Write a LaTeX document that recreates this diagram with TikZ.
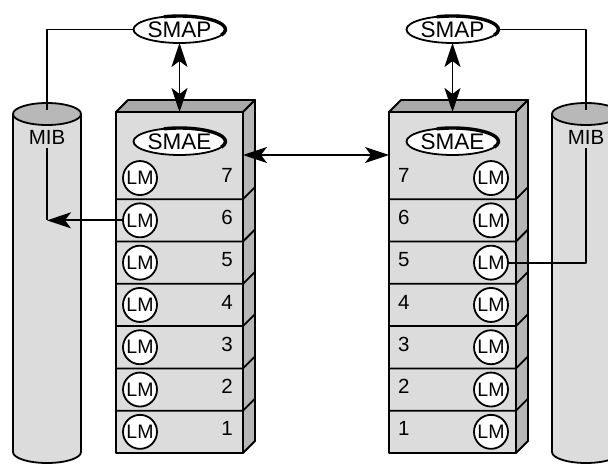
\documentclass[tikz,border=0pt]{standalone}
\usepackage{fontspec}
\setmainfont{Liberation Sans}
\usepackage{xcolor}
\usepackage{tikz}
\usetikzlibrary{arrows.meta,positioning,shapes.geometric,calc}
\definecolor{facegray}{HTML}{DCDCDC}
\definecolor{topgray}{HTML}{A8A8A8}
\definecolor{sidegray}{HTML}{B6B6B6}
\definecolor{capgray}{HTML}{B8B8B8}

\begin{document}
\begin{tikzpicture}[
  x=1pt, y=1pt,
  line width=1.8pt, line join=round,
  font=\fontsize{20.5}{24}\selectfont,
  entity/.style={ellipse, draw, fill=white, minimum width=92pt, minimum height=27pt, inner sep=0pt, outer sep=0pt, font=\fontsize{22.5}{26}\selectfont},
  lm/.style={circle, draw, fill=white, minimum size=34pt, inner sep=0pt, font=\fontsize{19.5}{22}\selectfont},
  stack/.style={draw, fill=facegray, minimum width=127pt, minimum height=341pt, inner sep=0pt, outer sep=0pt},
  arrow/.style={-{Stealth[length=24pt, width=16pt, inset=6pt]}},
  biarrow/.style={{Stealth[length=24pt, width=16pt, inset=6pt]}-{Stealth[length=24pt, width=16pt, inset=6pt]}},
]
\useasboundingbox (0,0) rectangle (608,464);
\clip (0,0) rectangle (608,464);

% MIB cylinders
\foreach \cx/\nm in {47/L,586/R} {
  \fill[facegray] (\cx-34,350) -- (\cx-34,12) arc[start angle=180, end angle=360, x radius=34, y radius=11] -- (\cx+34,350) -- cycle;
  \draw (\cx-34,350) -- (\cx-34,12) arc[start angle=180, end angle=360, x radius=34, y radius=11] -- (\cx+34,350);
  \draw[fill=capgray] (\cx,350) ellipse[x radius=34, y radius=11];
  \coordinate (top\nm) at (\cx,354);
}
\node (mibL) at (47,327) {MIB};
\node (mibR) at (586,327) {MIB};

% layer stacks
\node[stack] (stackL) at (179.5,181.5) {};
\node[stack] (stackR) at (452.5,181.5) {};
\foreach \s in {stackL,stackR} {
  \draw[fill=topgray] (\s.north west) -- ++(12,12) -- ($(\s.north east)+(12,12)$) -- (\s.north east) -- cycle;
  \draw[fill=sidegray] (\s.north east) -- ++(12,12) -- ($(\s.south east)+(12,12)$) -- (\s.south east) -- cycle;
  \foreach \k in {1,...,6}
    \draw ($(\s.south west)+(0,{\k*42.3})$) -- ++(127,0) -- ++(12,12);
}

\foreach \k in {1,...,7} {
  \node[lm] (lmL\k) at ($(stackL.south west)+(24,{(\k-0.5)*42.3})$) {LM};
  \node[lm] (lmR\k) at ($(stackR.south east)+(-25,{(\k-0.5)*42.3})$) {LM};
  \node[anchor=east] (numL\k) at ($(stackL.south east)+(-6,{(\k-0.5)*42.3+3})$) {\k};
  \node[anchor=west] (numR\k) at ($(stackR.south west)+(5,{(\k-0.5)*42.3+3})$) {\k};
}

\node[entity, below=16pt of stackL.north] (smaeL) {SMAE};
\node[entity, below=16pt of stackR.north] (smaeR) {SMAE};
\node[entity, above=69pt of stackL] (smapL) {SMAP};
\node[entity, above=69pt of stackR] (smapR) {SMAP};
\foreach \n in {smapL,smapR,smaeL,smaeR}
  \draw[line width=3.4pt] ($(\n.center)+(110:46 and 13.5)$) arc[start angle=110, end angle=-25, x radius=46, y radius=13.5];

\draw (smapL.west) -| (topL);
\draw (smapR.east) -| (topR);
\draw (mibL.south) -- (mibL.south |- lmL6.west);
\draw[arrow] (lmL6.west) -- (mibL.south |- lmL6.west);
\draw (lmR5.east) -| (mibR.south);

\draw[biarrow] (smapL.south) -- (stackL.north);
\draw[biarrow] (smapR.south) -- (stackR.north);
\draw[biarrow] (stackL.east |- smaeL.south) -- (stackR.west |- smaeL.south);

\end{tikzpicture}
\end{document}
